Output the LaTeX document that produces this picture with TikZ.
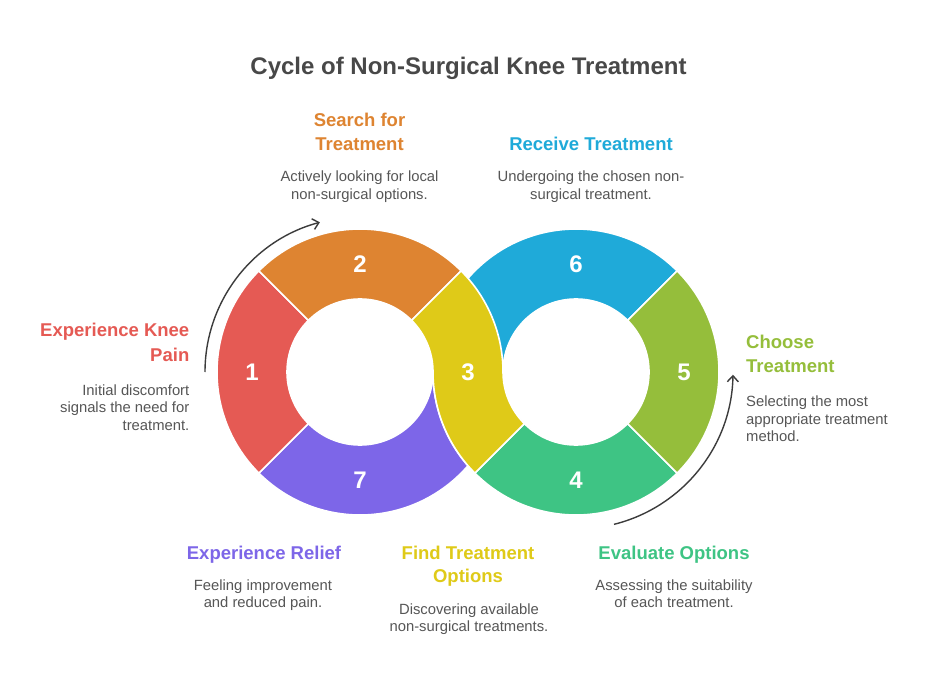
\documentclass[tikz,border=0pt]{standalone}
\usepackage{fontspec}
\setmainfont{Liberation Sans}
\usetikzlibrary{arrows.meta,calc}
\definecolor{cred}{HTML}{E55A54}
\definecolor{corange}{HTML}{DE8431}
\definecolor{cyellow}{HTML}{DFCA18}
\definecolor{cgreen}{HTML}{3EC484}
\definecolor{colive}{HTML}{95BE3B}
\definecolor{cblue}{HTML}{1FAAD9}
\definecolor{cpurple}{HTML}{7D66E8}
\definecolor{ctitle}{HTML}{484848}
\definecolor{cdesc}{HTML}{565656}
\definecolor{carrow}{HTML}{3C3C3C}
\newcommand\ringsector[4]{%
  \filldraw[seg, fill=#4] ($(#1)+(#2:143)$) arc[start angle=#2,end angle=#3,radius=143]
    -- ($(#1)+(#3:73)$) arc[start angle=#3,end angle=#2,radius=73] -- cycle;}
\begin{document}
\begin{tikzpicture}[x=1pt,y=-1pt,
  seg/.style={draw=white, line width=1.6pt, line join=round},
  num/.style={text=white, font=\fontsize{24}{24}\selectfont\bfseries, inner sep=0},
  head/.style={font=\fontsize{18.5}{22}\selectfont\bfseries, inner sep=0, anchor=base},
  desc/.style={font=\fontsize{14.8}{18}\selectfont, text=cdesc, inner sep=0, anchor=base},
  arrowline/.style={draw=carrow, line width=1.4pt, -{Straight Barb[length=6pt,width=11pt]}}]
\useasboundingbox[fill=white] (0,0) rectangle (936,684);
\coordinate (L) at (360,372);
\coordinate (R) at (576,372);
% hidden-under segments first
\ringsector{L}{0}{135}{cpurple}
\ringsector{R}{135}{315}{cblue}
\ringsector{L}{135}{225}{cred}
\ringsector{L}{225}{315}{corange}
\ringsector{R}{45}{135}{cgreen}
\ringsector{R}{-45}{45}{colive}
% S-shaped segment 3
\filldraw[seg, fill=cyellow] ($(L)+(-45:73)$) -- ($(L)+(-45:143)$)
  arc[start angle=-45,end angle=0,radius=143]
  arc[start angle=180,end angle=135,radius=73]
  -- ($(R)+(135:143)$)
  arc[start angle=135,end angle=180,radius=143]
  arc[start angle=0,end angle=-45,radius=73] -- cycle;
% numbers
\node[num] (n1) at ($(L)+(180:108)$) {1};
\node[num] (n2) at ($(L)+(270:108)$) {2};
\node[num] (n3) at (468,372) {3};
\node[num] (n4) at ($(R)+(90:108)$) {4};
\node[num] (n5) at ($(R)+(0:108)$) {5};
\node[num] (n6) at ($(R)+(270:108)$) {6};
\node[num] (n7) at ($(L)+(90:108)$) {7};
% arrows
\draw[arrowline] (L) ++(180:155) arc[start angle=180,end angle=255,radius=155];
\draw[arrowline] (R) ++(76:157) arc[start angle=76,end angle=1,radius=157];
% title
\node[font=\fontsize{24}{28}\selectfont\bfseries, text=ctitle, inner sep=0, anchor=base] (title) at (468.5,75) {Cycle of Non-Surgical Knee Treatment};
% 2 Search
\node[head, text=corange] (h2a) at (359.5,127) {Search for};
\node[head, text=corange] (h2b) at (359.5,150.7) {Treatment};
\node[desc] (d2a) at (359.5,181.7) {Actively looking for local};
\node[desc] (d2b) at (359.5,199.3) {non-surgical options.};
% 6 Receive
\node[head, text=cblue] (h6a) at (591,150.7) {Receive Treatment};
\node[desc] (d6a) at (591,181.7) {Undergoing the chosen non-};
\node[desc] (d6b) at (591,199.3) {surgical treatment.};
% 1 Knee pain
\node[head, text=cred, anchor=base east] (h1a) at (189.5,336.7) {Experience Knee};
\node[head, text=cred, anchor=base east] (h1b) at (189.5,361) {Pain};
\node[desc, anchor=base east] (d1a) at (189.5,395) {Initial discomfort};
\node[desc, anchor=base east] (d1b) at (189.5,412.7) {signals the need for};
\node[desc, anchor=base east] (d1c) at (189.5,430) {treatment.};
% 5 Choose
\node[head, text=colive, anchor=base west] (h5a) at (746,348.3) {Choose};
\node[head, text=colive, anchor=base west] (h5b) at (746,372.7) {Treatment};
\node[desc, anchor=base west] (d5a) at (746,406.5) {Selecting the most};
\node[desc, anchor=base west] (d5b) at (746,424) {appropriate treatment};
\node[desc, anchor=base west] (d5c) at (746,441.5) {method.};
% 7 Relief
\node[head, text=cpurple] (h7a) at (264,559) {Experience Relief};
\node[desc] (d7a) at (263,590) {Feeling improvement};
\node[desc] (d7b) at (263,607.3) {and reduced pain.};
% 3 Find
\node[head, text=cyellow] (h3a) at (468,559) {Find Treatment};
\node[head, text=cyellow] (h3b) at (468,582.3) {Options};
\node[desc] (d3a) at (469,614) {Discovering available};
\node[desc] (d3b) at (469,631.7) {non-surgical treatments.};
% 4 Evaluate
\node[head, text=cgreen] (h4a) at (674,559) {Evaluate Options};
\node[desc] (d4a) at (674,590) {Assessing the suitability};
\node[desc] (d4b) at (674,607.3) {of each treatment.};
\end{tikzpicture}
\end{document}
